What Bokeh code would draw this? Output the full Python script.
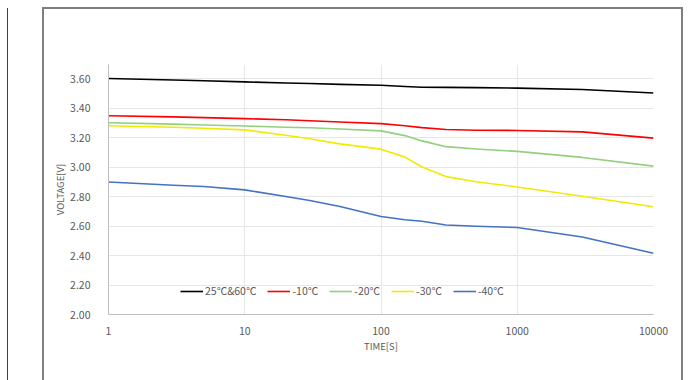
from bokeh.plotting import figure
from bokeh.models import (Range1d, FixedTicker, Legend, LegendItem,
                          NumeralTickFormatter, CustomJSTickFormatter, InlineStyleSheet)
from bokeh.embed import file_html
from bokeh.resources import INLINE

# ---- data ----
times = [1, 3, 5, 10, 20, 30, 50, 100, 150, 200, 300, 500, 1000, 3000, 10000]
v_25_60 = [3.600, 3.590, 3.585, 3.577, 3.570, 3.566, 3.560, 3.554, 3.546, 3.541, 3.540, 3.538, 3.535, 3.525, 3.502]
v_m10 = [3.348, 3.340, 3.335, 3.328, 3.320, 3.314, 3.305, 3.294, 3.280, 3.267, 3.254, 3.249, 3.248, 3.238, 3.196]
v_m20 = [3.300, 3.291, 3.285, 3.278, 3.270, 3.266, 3.258, 3.245, 3.213, 3.177, 3.138, 3.122, 3.106, 3.065, 3.006]
v_m30 = [3.280, 3.270, 3.263, 3.252, 3.215, 3.192, 3.157, 3.121, 3.067, 3.000, 2.935, 2.900, 2.865, 2.802, 2.730]
v_m40 = [2.898, 2.876, 2.868, 2.845, 2.800, 2.773, 2.732, 2.664, 2.642, 2.632, 2.607, 2.598, 2.590, 2.525, 2.415]
series_names = ["25℃&60℃", "-10℃", "-20℃", "-30℃", "-40℃"]
series_colors = ["#000000", "#FF0000", "#92CF80", "#F2EA00", "#4472C4"]
x_ticks = [1, 10, 100, 1000, 10000]
y_ticks = [2.0, 2.2, 2.4, 2.6, 2.8, 3.0, 3.2, 3.4, 3.6]

FONT = "Noto Sans CJK JP"
TXT = "#595959"

p = figure(width=693, height=380, x_axis_type="log", output_backend="svg",
           toolbar_location=None, x_range=Range1d(1, 10000), y_range=Range1d(2.0, 3.695),
           min_border_left=108, min_border_right=40, min_border_top=64, min_border_bottom=66)
p.outline_line_color = None
p.background_fill_color = "white"
p.border_fill_color = "white"

# axes
p.xaxis.ticker = FixedTicker(ticks=x_ticks, minor_ticks=[])
p.xaxis.formatter = CustomJSTickFormatter(code="return tick.toFixed(0);")
p.yaxis.ticker = FixedTicker(ticks=y_ticks, minor_ticks=[])
p.yaxis.formatter = NumeralTickFormatter(format="0.00")
for ax in (p.xaxis[0], p.yaxis[0]):
    ax.major_tick_line_color = None
    ax.minor_tick_line_color = None
    ax.axis_line_color = "#BFBFBF"
    ax.axis_line_width = 1
    ax.major_label_text_font = FONT
    ax.major_label_text_font_size = "10.5px"
    ax.major_label_text_color = TXT
    ax.axis_label_text_font = FONT
    ax.axis_label_text_font_size = "9.5px"
    ax.axis_label_text_color = TXT
    ax.axis_label_text_font_style = "normal"
p.xaxis.axis_label = "TIME[S]"
p.yaxis.axis_label = "VOLTAGE[V]"
p.xaxis.major_label_standoff = 6
p.yaxis.major_label_standoff = 12
p.xaxis.axis_label_standoff = 1
p.yaxis.axis_label_standoff = 0

p.xgrid.grid_line_color = "#E6E6E6"
p.ygrid.grid_line_color = "#E6E6E6"
p.xgrid.ticker = FixedTicker(ticks=x_ticks)
p.ygrid.ticker = FixedTicker(ticks=y_ticks)

renderers = []
for vals, col in zip([v_25_60, v_m10, v_m20, v_m30, v_m40], series_colors):
    r = p.line(times, vals, line_color=col, line_width=1.6, line_join="round")
    renderers.append(r)

legend = Legend(items=[LegendItem(label=n, renderers=[r]) for n, r in zip(series_names, renderers)],
                orientation="horizontal", location=(72, 16))
legend.label_text_font = FONT
legend.label_text_font_size = "10.5px"
legend.label_text_color = TXT
legend.glyph_width = 23
legend.glyph_height = 12
legend.label_standoff = 2
legend.spacing = 11
legend.padding = 0
legend.margin = 0
legend.border_line_alpha = 0
legend.background_fill_alpha = 0
p.add_layout(legend, "center")

# chart-area border and the edge of the neighbouring chart (drawn as CSS overlays)
p.stylesheets = [InlineStyleSheet(css="""
:host { position: relative; }
:host::after {
  content: ""; position: absolute; left: 42px; top: 7px; width: 641px; height: 400px;
  border: 2px solid #7F7F7F; box-sizing: border-box; pointer-events: none;
}
:host::before {
  content: ""; position: absolute; left: 7px; top: 8px; width: 1px; height: 400px;
  background: #404040; pointer-events: none; z-index: 5;
}
""")]

open("out.html", "w").write(file_html(p, INLINE))
